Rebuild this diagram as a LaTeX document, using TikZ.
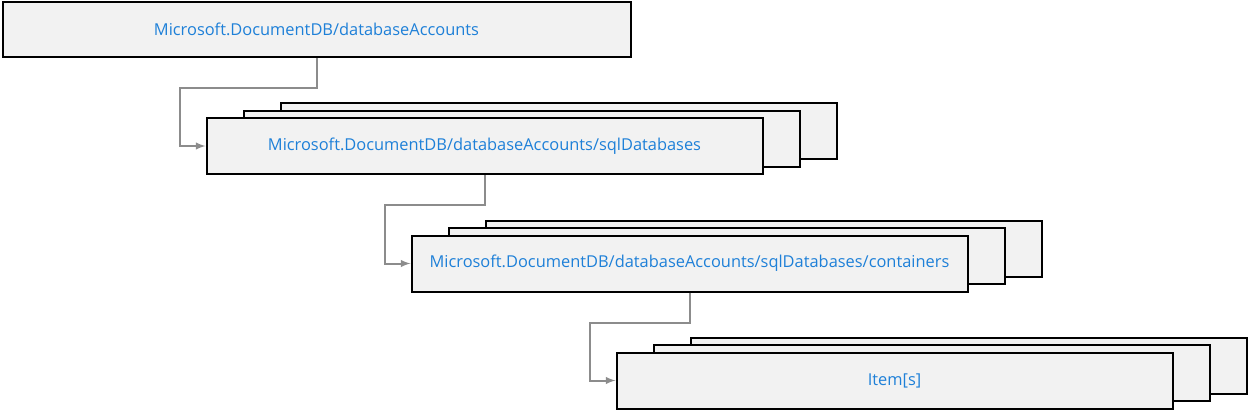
\documentclass[tikz,border=0pt]{standalone}
\usepackage{fontspec}
\setmainfont{Open Sans}
\usepackage{tikz}
\usetikzlibrary{arrows,calc}
\definecolor{msblue}{RGB}{30,128,216}
\definecolor{boxfill}{RGB}{242,242,242}
\tikzstyle{typebox}=[rectangle,draw=black,line width=1.5pt,fill=boxfill,minimum width=417pt,minimum height=42pt,inner sep=0pt,font=\fontsize{12.3}{15}\selectfont,text=msblue]
\tikzstyle{edge} = [draw,line width=1.5pt,black!45,-latex]

\begin{document}
\begin{tikzpicture}[x=0.75pt,y=-0.75pt]
    \useasboundingbox (0,0) rectangle (1248,410);
    % top level resource
    \node[typebox,minimum width=471pt,minimum height=41pt] (acct) at (316.5,29.5) {Microsoft.DocumentDB/databaseAccounts};

    % the stacked copies behind each child type
    \foreach \pos/\name in {{(558.5,131)/dbBack}, {(521.5,138.5)/dbMid},
                            {(763.5,248.5)/contBack}, {(726.5,256)/contMid},
                            {(968.5,365.5)/itemBack}, {(931.5,373)/itemMid}}
            \node[typebox] (\name) at \pos {};

    % the child types in front
    \node[typebox] (db) at (484.5,146) {Microsoft.DocumentDB/databaseAccounts/sqlDatabases};
    \node[typebox] (cont) at (689.5,263.5) {Microsoft.DocumentDB/databaseAccounts/sqlDatabases/containers};
    \node[typebox] (item) at (894.5,380.5) {Item[s]};

    % parent to child connectors
    \foreach \source/\dest in {acct/db, db/cont, cont/item}
        \draw[edge] (\source.south) -- ++(0,30) -| ([xshift=-19.5pt]\dest.west) -- (\dest.west);
\end{tikzpicture}
\end{document}
